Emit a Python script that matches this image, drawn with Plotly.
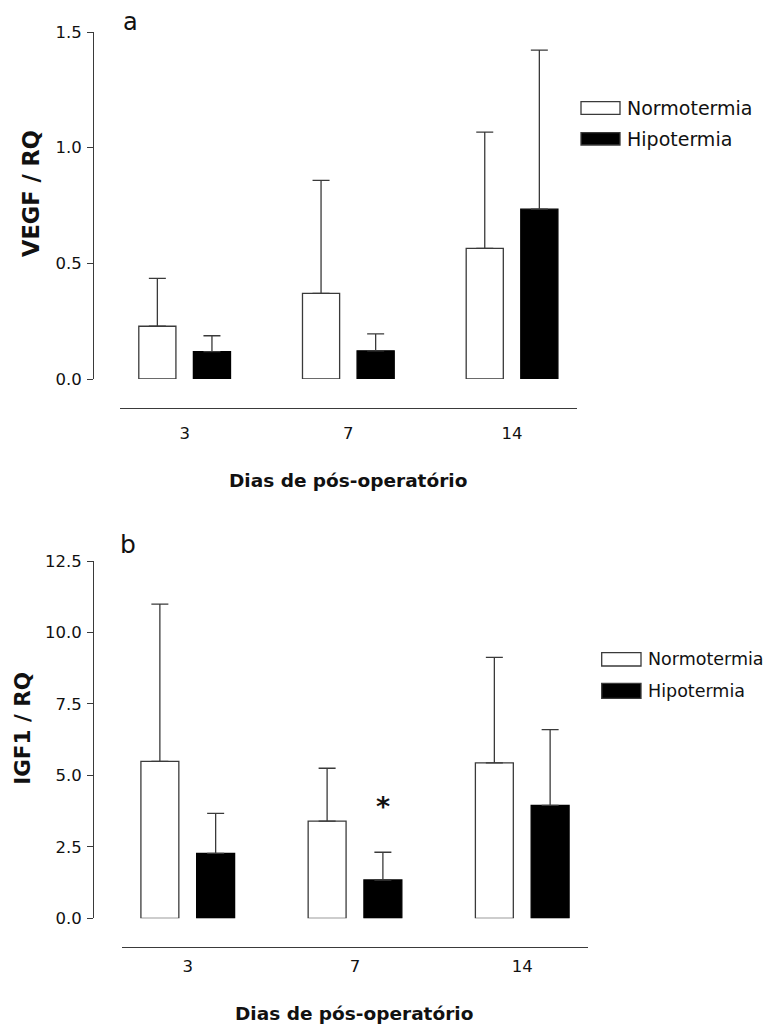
import plotly.graph_objects as go

# ---------------- data ----------------
days = ["3", "7", "14"]
series_names = ["Normotermia", "Hipotermia"]

vegf_normo = [0.228, 0.370, 0.565]
vegf_normo_err = [0.207, 0.489, 0.502]
vegf_hipo = [0.118, 0.122, 0.734]
vegf_hipo_err = [0.069, 0.073, 0.688]

igf_normo = [5.49, 3.40, 5.44]
igf_normo_err = [5.50, 1.85, 3.69]
igf_hipo = [2.27, 1.34, 3.95]
igf_hipo_err = [1.40, 0.97, 2.65]

star_day = "7"
star_y = 3.9

# ---------------- geometry helpers ----------------
# page has an 8px body margin; the figure is sized so the page fits the window
OFF = 8
W, H = 780 - 2 * OFF, 1034 - 2 * OFF
FONT = "DejaVu Sans"
LINE = "#3a3a3a"
TXT = "#111"


def px(x):
    return (x - OFF) / W


def py(y):
    return 1 - (y - OFF) / H


fig = go.Figure()


def add_bars(xa, ya, normo, normo_err, hipo, hipo_err):
    fig.add_trace(go.Bar(
        x=days, y=normo, name=series_names[0], xaxis=xa, yaxis=ya,
        marker=dict(color="white", line=dict(color=LINE, width=1.3)),
        error_y=dict(type="data", symmetric=False, array=normo_err,
                     arrayminus=[0] * len(normo), color=LINE, thickness=1.3, width=8.5),
        showlegend=False))
    fig.add_trace(go.Bar(
        x=days, y=hipo, name=series_names[1], xaxis=xa, yaxis=ya,
        marker=dict(color="black", line=dict(color="black", width=1.3)),
        error_y=dict(type="data", symmetric=False, array=hipo_err,
                     arrayminus=[0] * len(hipo), color=LINE, thickness=1.3, width=8.5),
        showlegend=False))


add_bars("x", "y", vegf_normo, vegf_normo_err, vegf_hipo, vegf_hipo_err)
add_bars("x2", "y2", igf_normo, igf_normo_err, igf_hipo, igf_hipo_err)

tickfont = dict(family=FONT, size=16.5, color=TXT)

xcommon = dict(type="category", range=[-0.395, 2.395], showgrid=False, zeroline=False,
               showline=True, linecolor=LINE, linewidth=1.3, ticks="",
               tickfont=tickfont, anchor="free", automargin=False)
ycommon = dict(showgrid=False, zeroline=False, showline=True, linecolor=LINE,
               linewidth=1.3, ticks="outside", ticklen=6, tickwidth=1.3,
               tickcolor=LINE, tickfont=tickfont, tickformat=".1f",
               anchor="free", position=px(93.3), ticklabelstandoff=2, automargin=False)

fig.update_layout(
    width=W, height=H,
    margin=dict(l=0, r=0, t=0, b=0, pad=0, autoexpand=False),
    paper_bgcolor="white", plot_bgcolor="rgba(0,0,0,0)",
    barmode="group", bargap=0.333, bargroupgap=0.32,
    showlegend=False,
    font=dict(family=FONT, color=TXT),
    xaxis=dict(xcommon, domain=[px(120), px(576.7)], position=py(407.7),
               ticklabelstandoff=10),
    yaxis=dict(ycommon, domain=[py(379), py(32)], range=[0, 1.5], dtick=0.5),
    xaxis2=dict(xcommon, domain=[px(121.7), px(588.3)], position=py(946.5),
                ticklabelstandoff=5),
    yaxis2=dict(ycommon, domain=[py(918.3), py(561)], range=[0, 12.5], dtick=2.5),
)

# ---------------- annotations: titles, panel labels, star ----------------
ann = []


def text(t, x, y, size, angle=0, xanchor="center"):
    ann.append(dict(text=t, x=px(x), y=py(y), xref="paper", yref="paper",
                    xanchor=xanchor, yanchor="middle", textangle=angle,
                    showarrow=False, font=dict(family=FONT, size=size, color=TXT)))


text("a", 130, 22, 24)
text("b", 127.5, 544, 25)
text("<b>VEGF / RQ</b>", 30.5, 193.5, 22.5, angle=-90)
text("<b>IGF1 / RQ</b>", 22.5, 728.3, 21.5, angle=-90)
text("<b>Dias de pós-operatório</b>", 347.5, 480, 18.5)
text("<b>Dias de pós-operatório</b>", 354.2, 1013, 18.5)

# significance marker above the Hipotermia bar of the marked day
ann.append(dict(text="<b>*</b>", x=days.index(star_day), y=star_y, xref="x2", yref="y2",
                xshift=28, xanchor="center", yanchor="middle",
                showarrow=False, font=dict(family=FONT, size=27, color=TXT)))

# ---------------- custom legends ----------------
shapes = []


def legend(x0, x1, rows, size):
    for (y0, y1, fill, name) in rows:
        shapes.append(dict(type="rect", xref="paper", yref="paper",
                           x0=px(x0), x1=px(x1), y0=py(y1), y1=py(y0),
                           fillcolor=fill, line=dict(color=LINE, width=1.3)))
        text(name, x1 + 5, (y0 + y1) / 2, size, xanchor="left")


legend(581, 620, [(101.7, 114.3, "white", series_names[0]),
                  (132.7, 145, "black", series_names[1])], 19)
legend(601.7, 641, [(652.7, 666, "white", series_names[0]),
                    (683.3, 698.3, "black", series_names[1])], 17.5)

fig.update_layout(annotations=ann, shapes=shapes)

fig.write_html("out.html")
